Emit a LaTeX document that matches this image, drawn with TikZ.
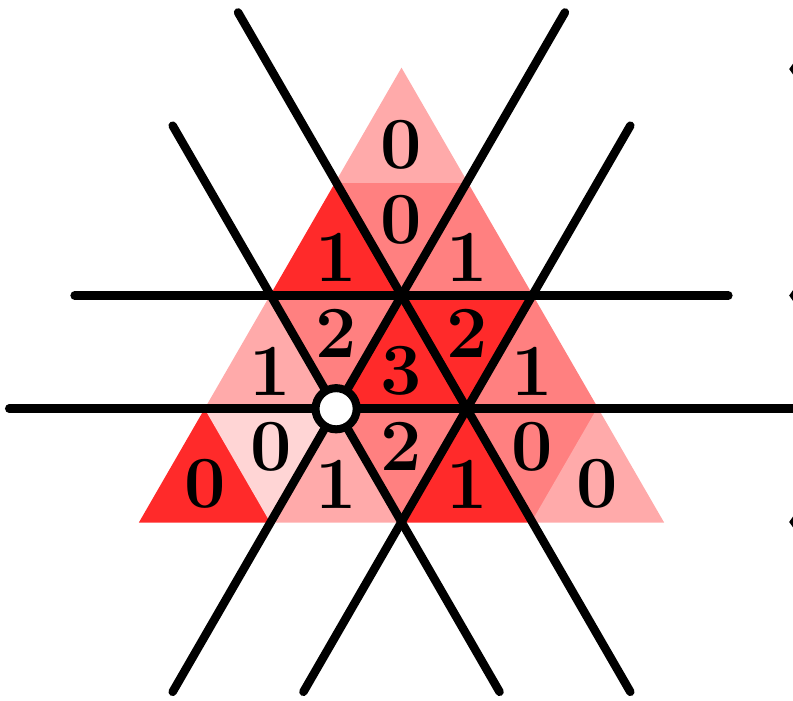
\documentclass[tikz,border=0pt]{standalone}
\usepackage{xcolor}
\usepackage{tikz}
\definecolor{redfull}{HTML}{FF2A2A}
\definecolor{redhalf}{HTML}{FF8080}
\definecolor{redthird}{HTML}{FFAAAA}
\definecolor{redpale}{HTML}{FFD5D5}

% one cell of the triangular grid: column, row, colour
\newcommand{\upcell}[3]{\filldraw[fill=#3, draw=#3, line width=0.3pt] (#1,#2) -- ++(1,0) -- ++(-1,1) -- cycle;}
\newcommand{\downcell}[3]{\filldraw[fill=#3, draw=#3, line width=0.3pt] ({#1+1},#2) -- ++(0,1) -- ++(-1,0) -- cycle;}

\begin{document}
\begin{tikzpicture}[x={(1cm,0cm)}, y={(0.5cm,0.8660cm)}]
        \tikzstyle{mirror} = [draw=black, line width=1.85pt, line cap=round]
        \tikzstyle{count} = [font=\fontsize{16}{18}\selectfont\bfseries, inner sep=0pt, text centered]
        \tikzstyle{hole} = [circle, draw=black, fill=white, line width=1.75pt, minimum size=0.315cm, inner sep=0pt]

        \useasboundingbox (-1.0707cm,-1.369cm) rectangle (4.9943cm,3.992cm);

        % bottom row
        \upcell{0}{0}{redfull}
        \downcell{0}{0}{redpale}
        \upcell{1}{0}{redthird}
        \downcell{1}{0}{redhalf}
        \upcell{2}{0}{redfull}
        \downcell{2}{0}{redhalf}
        \upcell{3}{0}{redthird}
        % second row
        \upcell{0}{1}{redthird}
        \downcell{0}{1}{redhalf}
        \upcell{1}{1}{redfull}
        \downcell{1}{1}{redfull}
        \upcell{2}{1}{redhalf}
        % third row
        \upcell{0}{2}{redfull}
        \downcell{0}{2}{redhalf}
        \upcell{1}{2}{redhalf}
        % top
        \upcell{0}{3}{redthird}

        % end points of the lines
        \coordinate (ha) at (-1.5,1);
        \coordinate (hb) at (4.5,1);
        \coordinate (ka) at (-1.5,2);
        \coordinate (kb) at (3.5,2);
        \coordinate (pa) at (1,-1.5);
        \coordinate (pb) at (1,4.5);
        \coordinate (qa) at (2,-1.5);
        \coordinate (qb) at (2,3.5);
        \coordinate (ra) at (-1.5,4.5);
        \coordinate (rb) at (4.5,-1.5);
        \coordinate (sa) at (-1.5,3.5);
        \coordinate (sb) at (3.5,-1.5);

        \draw [mirror] (ha) -- (hb);
        \draw [mirror] (ka) -- (kb);
        \draw [mirror] (pa) -- (pb);
        \draw [mirror] (qa) -- (qb);
        \draw [mirror] (ra) -- (rb);
        \draw [mirror] (sa) -- (sb);

        % numbers in the cells
        \node (u00) [count] at (0.333,0.333) {0};
        \node (d00) [count] at (0.667,0.667) {0};
        \node (u10) [count] at (1.333,0.333) {1};
        \node (d10) [count] at (1.667,0.667) {2};
        \node (u20) [count] at (2.333,0.333) {1};
        \node (d20) [count] at (2.667,0.667) {0};
        \node (u30) [count] at (3.333,0.333) {0};
        \node (u01) [count] at (0.333,1.333) {1};
        \node (d01) [count] at (0.667,1.667) {2};
        \node (u11) [count] at (1.333,1.333) {3};
        \node (d11) [count] at (1.667,1.667) {2};
        \node (u21) [count] at (2.333,1.333) {1};
        \node (u02) [count] at (0.333,2.333) {1};
        \node (d02) [count] at (0.667,2.667) {0};
        \node (u12) [count] at (1.333,2.333) {1};
        \node (u03) [count] at (0.333,3.333) {0};

        \node (origin) [hole] at (1,1) {};

        % marks cut by the right edge
        \foreach \k in {0,2,4}
            \fill [black] (4.965cm,{\k*0.866cm}) -- ++(0.05cm,0.07cm) -- ++(0.05cm,-0.07cm) -- ++(-0.05cm,-0.07cm) -- cycle;
    \end{tikzpicture}
\end{document}
